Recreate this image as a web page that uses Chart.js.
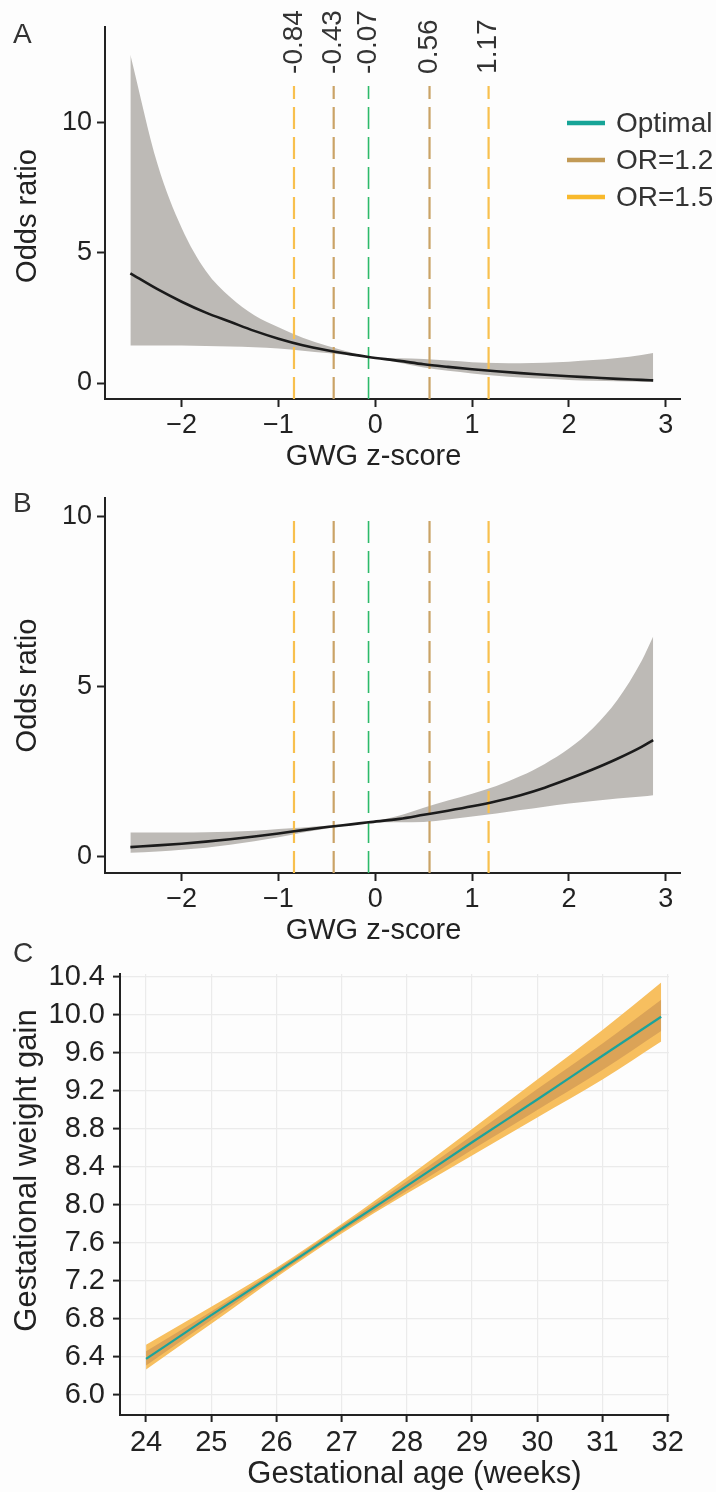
<!DOCTYPE html>
<html>
<head>
<meta charset="utf-8">
<script src="https://cdn.jsdelivr.net/npm/chart.js@4"></script>
<style>
  html, body { margin: 0; padding: 0; background: #fdfdfd; }
  #wrap { position: relative; width: 716px; height: 1492px; overflow: hidden;
          font-family: "Liberation Sans", Arial, sans-serif; color: #333; }
  #wrap canvas { position: absolute; left: 0; }
  .tag { position: absolute; left: 13px; font-size: 28px; line-height: 28px; }
</style>
</head>
<body>
<div id="wrap">
  <canvas id="chartA" width="716" height="475" style="top:0px"></canvas>
  <canvas id="chartB" width="716" height="470" style="top:475px"></canvas>
  <canvas id="chartC" width="716" height="547" style="top:945px"></canvas>
  <div class="tag" style="top:20px">A</div>
  <div class="tag" style="top:489px">B</div>
  <div class="tag" style="top:939px">C</div>
</div>
<script>
// Panels A and B: odds ratio along the GWG z-score
const zGrid = [-2.53, -2.25, -2, -1.75, -1.5, -1.25, -1, -0.75, -0.5, -0.25, -0.07,
               0.25, 0.5, 0.75, 1, 1.25, 1.5, 1.75, 2, 2.25, 2.5, 2.75, 2.87];
const orA      = [4.21, 3.60, 3.12, 2.70, 2.35, 2.00, 1.70, 1.45, 1.26, 1.10, 1.00,
                  0.85, 0.72, 0.62, 0.53, 0.45, 0.38, 0.32, 0.26, 0.21, 0.16, 0.12, 0.10];
const orAUpper = [12.6, 8.4, 5.95, 4.3, 3.3, 2.6, 2.14, 1.74, 1.43, 1.17, 1.00,
                  0.95, 0.92, 0.86, 0.80, 0.77, 0.76, 0.78, 0.82, 0.88, 0.96, 1.08, 1.15];
const orALower = [1.44, 1.44, 1.44, 1.42, 1.40, 1.37, 1.32, 1.24, 1.15, 1.06, 1.00,
                  0.78, 0.60, 0.47, 0.37, 0.28, 0.21, 0.16, 0.12, 0.09, 0.07, 0.05, 0.04];
const orB      = [0.27, 0.32, 0.37, 0.43, 0.50, 0.58, 0.67, 0.77, 0.86, 0.94, 1.00,
                  1.10, 1.22, 1.34, 1.47, 1.62, 1.80, 2.02, 2.28, 2.56, 2.87, 3.22, 3.42];
const orBUpper = [0.70, 0.70, 0.70, 0.71, 0.72, 0.75, 0.80, 0.85, 0.90, 0.96, 1.00,
                  1.20, 1.43, 1.64, 1.84, 2.07, 2.36, 2.72, 3.17, 3.78, 4.60, 5.75, 6.47];
const orBLower = [0.10, 0.14, 0.19, 0.25, 0.34, 0.44, 0.56, 0.70, 0.82, 0.92, 1.00,
                  1.00, 1.01, 1.08, 1.17, 1.26, 1.36, 1.46, 1.55, 1.63, 1.70, 1.76, 1.80];

// cut-off lines
const cutValues = [-0.84, -0.43, -0.07, 0.56, 1.17];
const cutText   = ['-0.84', '-0.43', '-0.07', '0.56', '1.17'];
const cutGroups = ['OR=1.5', 'OR=1.2', 'Optimal', 'OR=1.2', 'OR=1.5'];
const legendItems = ['Optimal', 'OR=1.2', 'OR=1.5'];

const zTicks = [-2, -1, 0, 1, 2, 3];
const zTickLabels = ['\u22122', '\u22121', '0', '1', '2', '3'];
const orTicks = [0, 5, 10];
const orTickLabels = ['0', '5', '10'];

// Panel C: gestational weight gain by gestational age
const weeks      = [24, 25, 26, 27, 28, 29, 30, 31, 31.9];
const gwgFit     = [6.38, 6.84, 7.29, 7.75, 8.20, 8.66, 9.11, 9.57, 9.98];
const gwg12Upper = [6.46, 6.88, 7.32, 7.78, 8.25, 8.73, 9.22, 9.70, 10.16];
const gwg12Lower = [6.31, 6.79, 7.26, 7.72, 8.15, 8.58, 9.00, 9.42, 9.83];
const gwg15Upper = [6.53, 6.93, 7.34, 7.80, 8.29, 8.80, 9.32, 9.84, 10.34];
const gwg15Lower = [6.27, 6.75, 7.24, 7.70, 8.12, 8.52, 8.92, 9.32, 9.72];
const weekTicks = [24, 25, 26, 27, 28, 29, 30, 31, 32];
const gwgTicks = [6.0, 6.4, 6.8, 7.2, 7.6, 8.0, 8.4, 8.8, 9.2, 9.6, 10.0, 10.4];
const gwgTickLabels = ['6.0', '6.4', '6.8', '7.2', '7.6', '8.0', '8.4', '8.8', '9.2', '9.6', '10.0', '10.4'];

const FONT = '"Liberation Sans", Arial, Helvetica, sans-serif';
const INK = '#222';
Chart.defaults.font.family = FONT;
Chart.defaults.color = INK;

const cutColor = { 'Optimal': '#2dba6a', 'OR=1.2': '#caa366', 'OR=1.5': '#f8c04e' };
const legendColor = { 'Optimal': '#17a497', 'OR=1.2': '#c29a56', 'OR=1.5': '#f8b92c' };

const pts = (xs, ys) => xs.map((x, i) => ({ x: x, y: ys[i] }));
const fixedTicks = values => scale => { scale.ticks = values.map(v => ({ value: v })); };

// rotated numbers above the cut-off lines
const cutLabels = {
  id: 'cutLabels',
  afterDatasetsDraw(chart, args, opts) {
    if (!opts.show) return;
    const { ctx, scales: { x, y } } = chart;
    ctx.save();
    ctx.font = '28px ' + FONT;
    ctx.fillStyle = '#333';
    ctx.textAlign = 'left';
    ctx.textBaseline = 'middle';
    cutValues.forEach((v, i) => {
      ctx.save();
      ctx.translate(x.getPixelForValue(v), y.getPixelForValue(opts.top) - 12);
      ctx.rotate(-Math.PI / 2);
      ctx.fillText(cutText[i], 0, 0);
      ctx.restore();
    });
    ctx.restore();
  }
};

// legend sitting to the right of panel A
const sideLegend = {
  id: 'sideLegend',
  afterDraw(chart, args, opts) {
    if (!opts.show) return;
    const ctx = chart.ctx;
    ctx.save();
    ctx.font = '28px ' + FONT;
    ctx.textAlign = 'left';
    ctx.textBaseline = 'middle';
    legendItems.forEach((name, i) => {
      const yy = opts.y + i * opts.gap;
      ctx.strokeStyle = legendColor[name];
      ctx.lineWidth = 4.5;
      ctx.beginPath();
      ctx.moveTo(opts.x, yy);
      ctx.lineTo(opts.x + 38, yy);
      ctx.stroke();
      ctx.fillStyle = '#333';
      ctx.fillText(name, opts.x + 49, yy + 1);
    });
    ctx.restore();
  }
};

// axis titles, placed like the original (not always centred on the axis)
const captions = {
  id: 'captions',
  afterDraw(chart, args, opts) {
    if (!opts.items) return;
    const ctx = chart.ctx;
    const a = chart.chartArea;
    opts.items.forEach(it => {
      ctx.save();
      ctx.font = it.size + 'px ' + FONT;
      ctx.fillStyle = INK;
      ctx.textAlign = 'center';
      ctx.textBaseline = 'middle';
      if (it.vertical) {
        ctx.translate(it.x, (a.top + a.bottom) / 2 + it.dy);
        ctx.rotate(-Math.PI / 2);
      } else {
        ctx.translate((a.left + a.right) / 2 + it.dx, it.y);
      }
      ctx.fillText(it.text, 0, 0);
      ctx.restore();
    });
  }
};
Chart.register(cutLabels, sideLegend, captions);

function axisStyle(tickLen) {
  return {
    grid: { drawOnChartArea: false, drawTicks: true, tickLength: tickLen, tickColor: INK, tickWidth: 2 },
    border: { display: true, color: INK, width: 2 }
  };
}

function oddsChart(id, curve, lower, upper, c) {
  const datasets = [
    { data: pts(zGrid, curve), borderColor: '#1b1b1b', borderWidth: 2.6, order: 0 },
    ...cutValues.map((v, i) => ({
      data: [{ x: v, y: c.yMin }, { x: v, y: c.cutTop }],
      borderColor: cutColor[cutGroups[i]],
      borderWidth: cutGroups[i] === 'Optimal' ? 1.6 : 2.2,
      borderDash: [22, 8],
      cubicInterpolationMode: 'default',
      order: 1
    })),
    { data: pts(zGrid, lower), borderColor: 'transparent', borderWidth: 0, order: 2 },
    { data: pts(zGrid, upper), borderColor: 'transparent', borderWidth: 0, order: 2,
      fill: '-1', backgroundColor: '#bdbab6' }
  ];
  return new Chart(document.getElementById(id), {
    type: 'line',
    data: { datasets },
    options: {
      responsive: false,
      animation: false,
      layout: { padding: { top: c.padTop, right: 36, left: 0, bottom: 0 } },
      elements: { point: { radius: 0 }, line: { cubicInterpolationMode: 'monotone' } },
      plugins: {
        legend: { display: false },
        tooltip: { enabled: false },
        cutLabels: { show: c.labels, top: c.cutTop },
        sideLegend: { show: c.legend, x: 567, y: 123, gap: 37 },
        captions: { items: [
          { text: 'GWG z-score', size: 29, dx: -19, y: c.titleY },
          { text: 'Odds ratio', size: 29, vertical: true, x: 28, dy: c.yTitleDy }
        ] }
      },
      scales: {
        x: {
          type: 'linear', min: -2.792, max: 3.147,
          afterBuildTicks: fixedTicks(zTicks),
          afterFit: s => { s.height = c.xBox; },
          ticks: { autoSkip: false, maxRotation: 0, padding: 5, font: { size: 27, lineHeight: 1 },
                   callback: (v, i) => zTickLabels[i] },
          ...axisStyle(8)
        },
        y: {
          type: 'linear', min: c.yMin, max: c.yMax,
          afterBuildTicks: fixedTicks(orTicks),
          afterFit: s => { s.width = 105; },
          ticks: { padding: 5, font: { size: 27, lineHeight: 1 }, callback: (v, i) => orTickLabels[i] },
          ...axisStyle(8)
        }
      }
    }
  });
}

oddsChart('chartA', orA, orALower, orAUpper,
  { yMin: -0.613, yMax: 13.66, cutTop: 11.4, padTop: 27, xBox: 76, titleY: 457, yTitleDy: 3,
    labels: true, legend: true });
oddsChart('chartB', orB, orBLower, orBUpper,
  { yMin: -0.493, yMax: 10.55, cutTop: 10.0, padTop: 23, xBox: 72, titleY: 456, yTitleDy: 0,
    labels: false, legend: false });

// Panel C
new Chart(document.getElementById('chartC'), {
  type: 'line',
  data: {
    datasets: [
      { data: pts(weeks, gwgFit), borderColor: '#1ba39b', borderWidth: 2.2, order: 0 },
      { data: pts(weeks, gwg12Lower), borderColor: 'transparent', borderWidth: 0, order: 1 },
      { data: pts(weeks, gwg12Upper), borderColor: 'transparent', borderWidth: 0, order: 1,
        fill: '-1', backgroundColor: '#dba357' },
      { data: pts(weeks, gwg15Lower), borderColor: 'transparent', borderWidth: 0, order: 2 },
      { data: pts(weeks, gwg15Upper), borderColor: 'transparent', borderWidth: 0, order: 2,
        fill: '-1', backgroundColor: '#f7bf5f' }
    ]
  },
  options: {
    responsive: false,
    animation: false,
    layout: { padding: { top: 29, right: 47, left: 0, bottom: 0 } },
    elements: { point: { radius: 0 }, line: { cubicInterpolationMode: 'monotone' } },
    plugins: {
      legend: { display: false },
      tooltip: { enabled: false },
      captions: { items: [
        { text: 'Gestational age (weeks)', size: 31, dx: 20, y: 529 },
        { text: 'Gestational weight gain', size: 31, vertical: true, x: 27, dy: -24 }
      ] }
    },
    scales: {
      x: {
        type: 'linear', min: 23.6, max: 32.02,
        afterBuildTicks: fixedTicks(weekTicks),
        afterFit: s => { s.height = 77; },
        ticks: { autoSkip: false, maxRotation: 0, padding: 6, font: { size: 29, lineHeight: 1 } },
        grid: { color: '#ebebeb', lineWidth: 1.2, drawTicks: true, tickLength: 7, tickColor: INK, tickWidth: 2 },
        border: { display: true, color: INK, width: 2 }
      },
      y: {
        type: 'linear', min: 5.79, max: 10.43,
        afterBuildTicks: fixedTicks(gwgTicks),
        afterFit: s => { s.width = 120; },
        ticks: { padding: 8, font: { size: 29, lineHeight: 1 }, callback: (v, i) => gwgTickLabels[i] },
        grid: { color: '#ebebeb', lineWidth: 1.2, drawTicks: true, tickLength: 7, tickColor: INK, tickWidth: 2 },
        border: { display: true, color: INK, width: 2 }
      }
    }
  }
});
</script>
</body>
</html>
